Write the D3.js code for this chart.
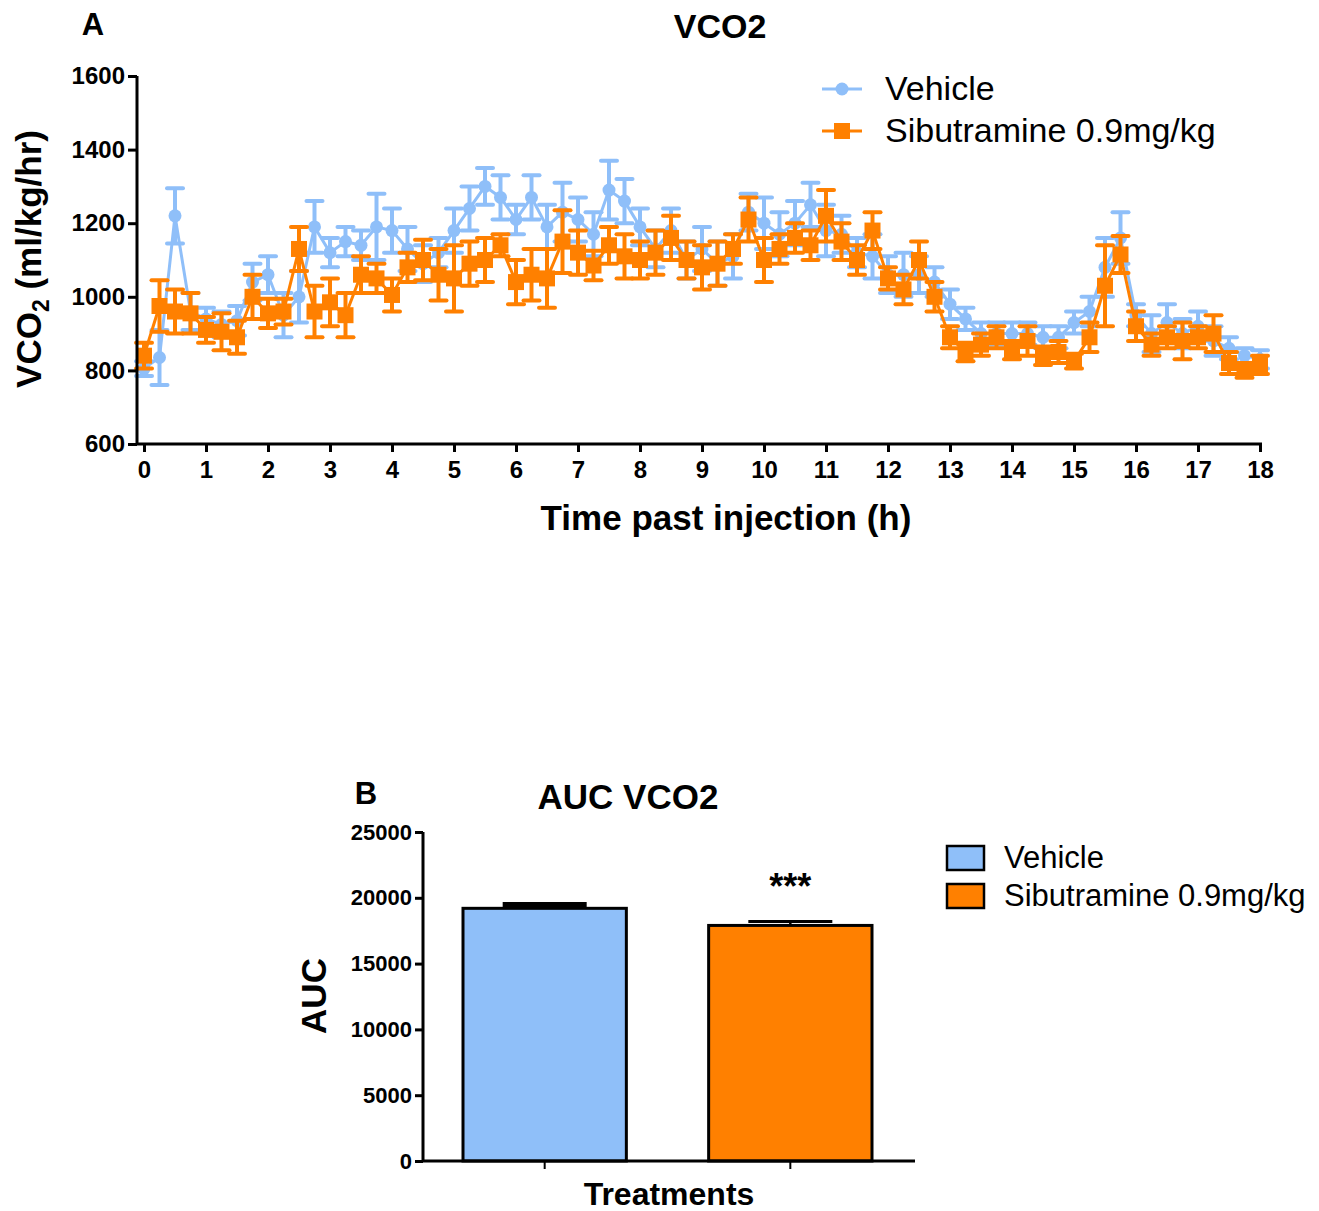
<!DOCTYPE html>
<html>
<head>
<meta charset="utf-8">
<script src="https://cdn.jsdelivr.net/npm/d3@7"></script>
<style>
  body { margin: 0; background: #fff; }
  svg { display: block; font-family: "Liberation Sans", Arial, sans-serif; }
</style>
</head>
<body>
<svg id="chart" width="1319" height="1211"></svg>
<script>
// Time grid: readings every 15 minutes over 18 h after injection
const hours = d3.range(0, 18.001, 0.25);

// Panel A: VCO2 mean and SEM per time point
const vehicleMean = [805, 835, 1220, 960, 940, 925, 935, 1040, 1060, 950,
  1000, 1190, 1120, 1150, 1140, 1190, 1180, 1130, 1090, 1120,
  1180, 1240, 1300, 1270, 1210, 1270, 1190, 1230, 1210, 1170,
  1290, 1260, 1190, 1130, 1180, 1100, 1130, 1090, 1110, 1230,
  1200, 1170, 1200, 1250, 1180, 1170, 1120, 1110, 1060, 1060,
  1060, 1040, 980, 940, 900, 900, 900, 900, 890, 890,
  930, 960, 1080, 1160, 950, 900, 930, 900, 920, 880,
  860, 840, 830];
const vehicleSem = [20, 75, 75, 50, 30, 35, 40, 50, 50, 60,
  70, 70, 40, 40, 40, 90, 60, 60, 50, 40,
  60, 60, 50, 60, 40, 60, 60, 80, 60, 60,
  80, 60, 50, 50, 60, 50, 60, 60, 60, 50,
  70, 60, 60, 60, 70, 50, 40, 60, 50, 60,
  50, 40, 40, 30, 30, 30, 30, 30, 30, 30,
  30, 40, 80, 70, 30, 50, 50, 40, 40, 40,
  30, 20, 25];
const sibMean = [840, 975, 960, 955, 910, 905, 890, 1000, 955, 960,
  1130, 960, 985, 950, 1060, 1050, 1005, 1080, 1100, 1060,
  1050, 1090, 1100, 1140, 1040, 1060, 1050, 1150, 1120, 1085,
  1140, 1110, 1100, 1120, 1160, 1100, 1080, 1090, 1130, 1210,
  1100, 1130, 1160, 1140, 1220, 1150, 1100, 1180, 1050, 1020,
  1100, 1000, 890, 850, 870, 890, 855, 880, 840, 850,
  825, 890, 1030, 1115, 920, 870, 890, 880, 890, 900,
  820, 800, 815];
const sibSem = [35, 70, 60, 55, 35, 50, 45, 60, 40, 35,
  60, 70, 65, 60, 50, 40, 45, 40, 55, 70,
  90, 60, 60, 30, 60, 70, 80, 85, 60, 40,
  50, 60, 50, 60, 60, 50, 60, 60, 40, 60,
  60, 40, 40, 40, 70, 50, 40, 50, 30, 40,
  50, 40, 30, 25, 30, 30, 25, 40, 25, 30,
  20, 40, 110, 50, 40, 30, 30, 50, 30, 50,
  30, 20, 25];
const xTicks = d3.range(0, 19);
const yTicksA = [600, 800, 1000, 1200, 1400, 1600];

// Panel B: area under the curve
const treatments = ["Vehicle", "Sibutramine 0.9mg/kg"];
const aucMean = [19200, 17900];
const aucSem = [300, 300];
const yTicksB = [0, 5000, 10000, 15000, 20000, 25000];

const colors = { "Vehicle": "#8fbff9", "Sibutramine 0.9mg/kg": "#ff8000" };
const intFmt = d3.format("d");

const svg = d3.select("#chart");

// ---------- Panel A ----------
const A = { left: 137, right: 1262, top: 76, bottom: 444 };
const x = d3.scaleLinear().domain([0, 18]).range([144, 1260]);
const y = d3.scaleLinear().domain([600, 1600]).range([A.bottom, A.top]);

const gA = svg.append("g");

function drawSeries(means, sems, color, shape) {
  const pts = hours.map((h, i) => ({ h, m: means[i], s: sems[i] }));
  const g = gA.append("g");
  // connecting line
  g.append("path")
    .datum(pts)
    .attr("fill", "none")
    .attr("stroke", color)
    .attr("stroke-width", 3)
    .attr("d", d3.line().x(d => x(d.h)).y(d => y(d.m)));
  // error bars
  const eb = g.selectAll(".eb").data(pts).join("g");
  eb.append("line")
    .attr("x1", d => x(d.h)).attr("x2", d => x(d.h))
    .attr("y1", d => y(d.m - d.s)).attr("y2", d => y(d.m + d.s))
    .attr("stroke", color).attr("stroke-width", 4);
  [1, -1].forEach(sign => {
    eb.append("line")
      .attr("x1", d => x(d.h) - 8).attr("x2", d => x(d.h) + 8)
      .attr("y1", d => y(d.m + sign * d.s)).attr("y2", d => y(d.m + sign * d.s))
      .attr("stroke", color).attr("stroke-width", 4).attr("stroke-linecap", "round");
  });
  // markers
  if (shape === "square") {
    g.selectAll(".mk").data(pts).join("rect")
      .attr("x", d => x(d.h) - 8).attr("y", d => y(d.m) - 8)
      .attr("width", 16).attr("height", 16)
      .attr("fill", color);
  } else {
    g.selectAll(".mk").data(pts).join("circle")
      .attr("cx", d => x(d.h)).attr("cy", d => y(d.m))
      .attr("r", 6.5).attr("fill", color);
  }
}
drawSeries(vehicleMean, vehicleSem, colors["Vehicle"], "circle");
drawSeries(sibMean, sibSem, colors["Sibutramine 0.9mg/kg"], "square");

// axes for panel A
const yAxisA = d3.axisLeft(y).tickValues(yTicksA).tickFormat(intFmt).tickSize(9).tickPadding(3);
const yAx = gA.append("g").attr("transform", `translate(${A.left},0)`).call(yAxisA);
const xAxisA = d3.axisBottom(x).tickValues(xTicks).tickFormat(intFmt).tickSize(8).tickPadding(9);
const xAx = gA.append("g").attr("transform", `translate(0,${A.bottom})`).call(xAxisA);
xAx.select(".domain").attr("d", `M${A.left},0H${A.right}`);
yAx.select(".domain").attr("d", `M0,${A.bottom}V${A.top}`);
[yAx, xAx].forEach(ax => {
  ax.selectAll(".domain, .tick line").attr("stroke", "#000").attr("stroke-width", 3);
  ax.selectAll(".tick text").attr("fill", "#000").attr("font-size", 24)
    .attr("font-weight", "bold").attr("font-family", "Liberation Sans, Arial, sans-serif");
});

gA.append("text").attr("x", 93).attr("y", 35).attr("text-anchor", "middle")
  .attr("font-size", 31).attr("font-weight", "bold").text("A");
gA.append("text").attr("x", 720).attr("y", 38).attr("text-anchor", "middle")
  .attr("font-size", 34).attr("font-weight", "bold").text("VCO2");
gA.append("text").attr("x", 726).attr("y", 530).attr("text-anchor", "middle")
  .attr("font-size", 35).attr("font-weight", "bold").text("Time past injection (h)");
const yl = gA.append("text")
  .attr("transform", "translate(41,259) rotate(-90)")
  .attr("text-anchor", "middle").attr("font-size", 35).attr("font-weight", "bold");
yl.append("tspan").text("VCO");
yl.append("tspan").attr("font-size", 23).attr("dy", 8).text("2");
yl.append("tspan").attr("dy", -8).text(" (ml/kg/hr)");

// legend A
const legA = gA.append("g");
treatments.forEach((t, i) => {
  const ly = 89 + i * 42;
  legA.append("line").attr("x1", 822).attr("x2", 862).attr("y1", ly).attr("y2", ly)
    .attr("stroke", colors[t]).attr("stroke-width", 3);
  if (i === 0) {
    legA.append("circle").attr("cx", 842).attr("cy", ly).attr("r", 6.5).attr("fill", colors[t]);
  } else {
    legA.append("rect").attr("x", 834).attr("y", ly - 8).attr("width", 16).attr("height", 16).attr("fill", colors[t]);
  }
  legA.append("text").attr("x", 885).attr("y", ly + 11).attr("font-size", 34).text(t);
});

// ---------- Panel B ----------
const B = { left: 423, right: 915, top: 832, bottom: 1161 };
const xb = d3.scaleBand().domain(treatments).range([463, 872]).paddingInner(0.335).paddingOuter(0);
const yb = d3.scaleLinear().domain([0, 25000]).range([B.bottom, B.top]);
const gB = svg.append("g");

// error bars (drawn under the bars)
treatments.forEach((t, i) => {
  const cx = xb(t) + xb.bandwidth() / 2;
  gB.append("line").attr("x1", cx).attr("x2", cx)
    .attr("y1", yb(aucMean[i])).attr("y2", yb(aucMean[i] + aucSem[i]))
    .attr("stroke", "#000").attr("stroke-width", 2.5);
  gB.append("line").attr("x1", cx - 42).attr("x2", cx + 42)
    .attr("y1", yb(aucMean[i] + aucSem[i])).attr("y2", yb(aucMean[i] + aucSem[i]))
    .attr("stroke", "#000").attr("stroke-width", i === 0 ? 5 : 3);
});
gB.selectAll(".bar").data(treatments).join("rect")
  .attr("x", d => xb(d)).attr("width", xb.bandwidth())
  .attr("y", (d, i) => yb(aucMean[i]))
  .attr("height", (d, i) => yb(0) - yb(aucMean[i]))
  .attr("fill", d => colors[d]).attr("stroke", "#000").attr("stroke-width", 3);

const yAxB = gB.append("g").attr("transform", `translate(${B.left},0)`)
  .call(d3.axisLeft(yb).tickValues(yTicksB).tickFormat(intFmt).tickSize(8).tickPadding(3));
yAxB.select(".domain").attr("d", `M0,${B.bottom}V${B.top}`);
const xAxB = gB.append("g").attr("transform", `translate(0,${B.bottom})`)
  .call(d3.axisBottom(xb).tickSize(8).tickFormat(""));
xAxB.select(".domain").attr("d", `M${B.left},0H${B.right}`);
[yAxB, xAxB].forEach(ax => {
  ax.selectAll(".domain, .tick line").attr("stroke", "#000").attr("stroke-width", 3);
  ax.selectAll(".tick text").attr("fill", "#000").attr("font-size", 22)
    .attr("font-weight", "bold").attr("font-family", "Liberation Sans, Arial, sans-serif");
});
xAxB.selectAll(".tick line").attr("stroke-width", 2);

gB.append("text").attr("x", xb(treatments[1]) + xb.bandwidth() / 2).attr("y", yb(aucMean[1] + aucSem[1]) - 22)
  .attr("text-anchor", "middle").attr("font-size", 36).attr("font-weight", "bold").text("***");
gB.append("text").attr("x", 366).attr("y", 804).attr("text-anchor", "middle")
  .attr("font-size", 31).attr("font-weight", "bold").text("B");
gB.append("text").attr("x", 628).attr("y", 809).attr("text-anchor", "middle")
  .attr("font-size", 35).attr("font-weight", "bold").text("AUC VCO2");
gB.append("text").attr("x", 669).attr("y", 1205).attr("text-anchor", "middle")
  .attr("font-size", 32).attr("font-weight", "bold").text("Treatments");
gB.append("text").attr("transform", "translate(326,996) rotate(-90)")
  .attr("text-anchor", "middle").attr("font-size", 35).attr("font-weight", "bold").text("AUC");

// legend B
treatments.forEach((t, i) => {
  const ly = 858 + i * 38;
  gB.append("rect").attr("x", 947).attr("y", ly - 12).attr("width", 37).attr("height", 24)
    .attr("fill", colors[t]).attr("stroke", "#000").attr("stroke-width", 2.5);
  gB.append("text").attr("x", 1004).attr("y", ly + 10).attr("font-size", 31).text(t);
});
</script>
</body>
</html>
